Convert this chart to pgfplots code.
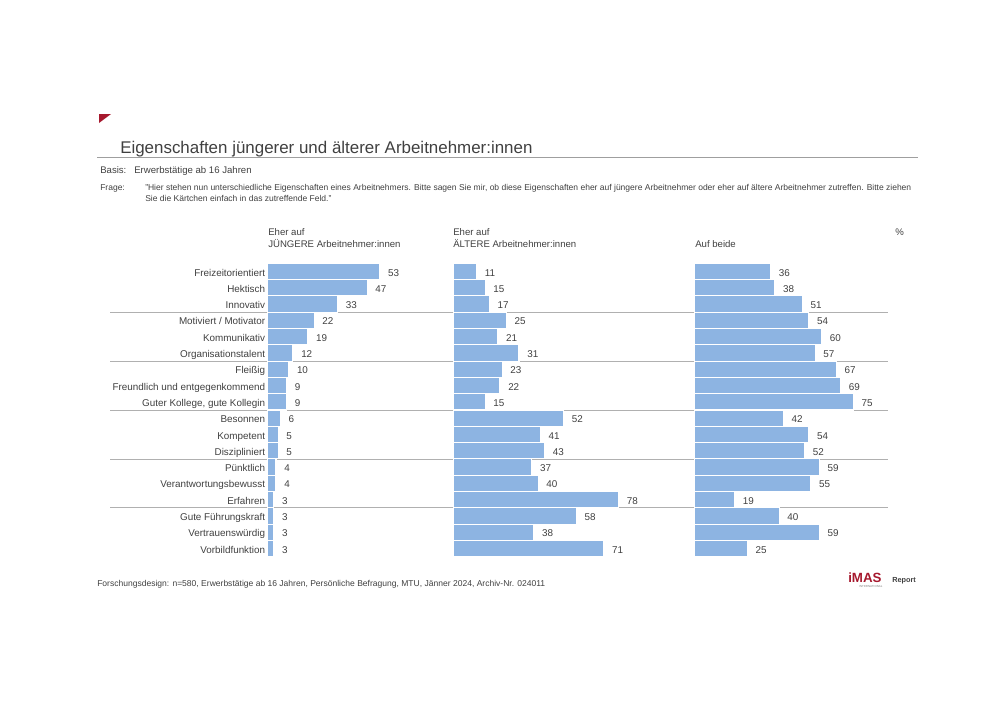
\documentclass[border=0pt]{standalone}
\usepackage{fontspec}
\setmainfont{Liberation Sans}
\usepackage{pgfplots}
\usepackage{pgfplotstable}
\pgfplotsset{compat=1.18}
\definecolor{barblue}{HTML}{8DB4E2}
\definecolor{txt}{HTML}{404040}
\definecolor{imasred}{HTML}{A6192E}
\definecolor{sep}{HTML}{B0B0B0}

\pgfplotstableread{
idx a b c
0 53 11 36
1 47 15 38
2 33 17 51
3 22 25 54
4 19 21 60
5 12 31 57
6 10 23 67
7 9 22 69
8 9 15 75
9 6 52 42
10 5 41 54
11 5 43 52
12 4 37 59
13 4 40 55
14 3 78 19
15 3 58 40
16 3 38 59
17 3 71 25
}\data

\pgfplotsset{panel/.style={
  xbar, scale only axis, width=127.2pt, height=220.05pt, anchor=north west,
  xmin=0, xmax=80, ymin=-0.5, ymax=17.5, y dir=reverse,
  axis line style={draw=none}, tick style={draw=none},
  xtick=\empty, ytick=\empty, clip=false, bar width=1,
  /pgf/number format/assume math mode=true,
  nodes near coords,
  nodes near coords style={font=\fontsize{7.4}{8}\selectfont, text=txt, anchor=west, xshift=2.5pt, text height=1.6ex, text depth=0.3ex},
}, barstyle/.style={fill=barblue, draw=white, line width=0.8pt}}

\begin{document}
\begin{tikzpicture}[x=0.75pt,y=-0.75pt]
\useasboundingbox (0,0) rectangle (1000,707);
% header
\fill[imasred] (99,114) -- (111,114) -- (99,123) -- cycle;
\node[anchor=base west, font=\fontsize{12.7}{15}\selectfont, text=txt, inner sep=0] at (120,153) {Eigenschaften jüngerer und älterer Arbeitnehmer:innen};
\draw[gray!75, line width=1pt] (97,157.5) -- (918,157.5);
\node[anchor=base west, font=\fontsize{7.2}{8}\selectfont, text=txt, inner sep=0] at (100,173) {Basis:};
\node[anchor=base west, font=\fontsize{7.2}{8}\selectfont, text=txt, inner sep=0] at (134,173) {Erwerbstätige ab 16 Jahren};
\node[anchor=base west, font=\fontsize{6.38}{8}\selectfont, text=txt, inner sep=0] at (100,190) {Frage:};
\node[anchor=base west, font=\fontsize{6.38}{8}\selectfont, text=txt, inner sep=0] at (145,190) {"Hier stehen nun unterschiedliche Eigenschaften eines Arbeitnehmers. Bitte sagen Sie mir, ob diese Eigenschaften eher auf jüngere Arbeitnehmer oder eher auf ältere Arbeitnehmer zutreffen. Bitte ziehen};
\node[anchor=base west, font=\fontsize{6.38}{8}\selectfont, text=txt, inner sep=0] at (145,201) {Sie die Kärtchen einfach in das zutreffende Feld."};
% column headers
\node[anchor=base west, font=\fontsize{7.2}{8}\selectfont, text=txt, inner sep=0] at (268,235.5) {Eher auf};
\node[anchor=base west, font=\fontsize{7.2}{8}\selectfont, text=txt, inner sep=0] at (268,247.5) {JÜNGERE Arbeitnehmer:innen};
\node[anchor=base west, font=\fontsize{7.2}{8}\selectfont, text=txt, inner sep=0] at (453,235.5) {Eher auf};
\node[anchor=base west, font=\fontsize{7.2}{8}\selectfont, text=txt, inner sep=0] at (453,247.5) {ÄLTERE Arbeitnehmer:innen};
\node[anchor=base west, font=\fontsize{7.2}{8}\selectfont, text=txt, inner sep=0] at (695,247.5) {Auf beide};
\node[anchor=base west, font=\fontsize{7.2}{8}\selectfont, text=txt, inner sep=0] at (895,235) {\%};
% separators
\foreach \yy in {312.2,361.1,410,458.9,507.8} {\draw[sep, line width=0.5pt] (110,\yy) -- (888,\yy);}
% panels
\begin{axis}[panel, at={(200.625pt,-197.475pt)},
  ytick={0,...,17},
  yticklabels={Freizeitorientiert,Hektisch,Innovativ,Motiviert / Motivator,Kommunikativ,Organisationstalent,Fleißig,Freundlich und entgegenkommend,{Guter Kollege, gute Kollegin},Besonnen,Kompetent,Diszipliniert,Pünktlich,Verantwortungsbewusst,Erfahren,Gute Führungskraft,Vertrauenswürdig,Vorbildfunktion},
  yticklabel style={font=\fontsize{7.4}{8}\selectfont, text=txt, xshift=6pt, text height=1.6ex, text depth=0.3ex}]
\addplot[barstyle] table[x=a,y=idx] {\data};
\end{axis}
\begin{axis}[panel, at={(339.975pt,-197.475pt)}]
\addplot[barstyle] table[x=b,y=idx] {\data};
\end{axis}
\begin{axis}[panel, at={(520.725pt,-197.475pt)}]
\addplot[barstyle] table[x=c,y=idx] {\data};
\end{axis}
% footer
\node[anchor=base west, font=\fontsize{6.4}{8}\selectfont, text=txt, inner sep=0] at (97,586) {Forschungsdesign: n=580, Erwerbstätige ab 16 Jahren, Persönliche Befragung, MTU, Jänner 2024, Archiv-Nr. 024011};
\node[anchor=base west, font=\bfseries\fontsize{10}{10}\selectfont, text=imasred, inner sep=0] at (848,582) {iMAS};
\node[anchor=base west, font=\bfseries\fontsize{5.5}{6}\selectfont, text=txt, inner sep=0] at (892,582) {Report};
\node[anchor=base west, font=\fontsize{2.2}{3}\selectfont, text=gray, inner sep=0] at (859,587) {INTERNATIONAL};
\end{tikzpicture}
\end{document}
